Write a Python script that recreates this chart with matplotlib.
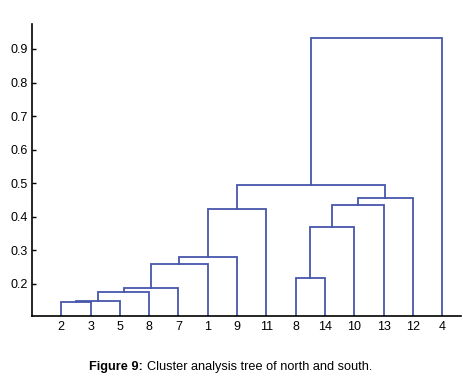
import matplotlib
matplotlib.use("Agg")
import matplotlib.pyplot as plt
from matplotlib.offsetbox import TextArea, HPacker, AnchoredOffsetbox

plt.rcParams['font.family'] = ['Liberation Sans', 'DejaVu Sans']

# Hojas del dendrograma en el orden en que aparecen
leaf_labels = ['2', '3', '5', '8', '7', '1', '9', '11', '8', '14', '10', '13', '12', '4']
# Uniones: (nodo izq, nodo der, altura); nodos >= 14 son clusters
merge_left = [0, 14, 15, 16, 17, 18, 19, 8, 21, 22, 23, 20, 25]
merge_right = [1, 2, 3, 4, 5, 6, 7, 9, 10, 11, 12, 24, 13]
merge_height = [0.145, 0.149, 0.175, 0.188, 0.26, 0.28, 0.422,
                0.217, 0.37, 0.435, 0.455, 0.495, 0.933]
y_ticks = [0.2, 0.3, 0.4, 0.5, 0.6, 0.7, 0.8, 0.9]

color = '#4656ab'
n = len(leaf_labels)
xpos = {i: i + 1 for i in range(n)}
ypos = {i: 0.0 for i in range(n)}

fig = plt.figure(figsize=(4.63, 3.84), dpi=100)
ax = fig.add_axes([0.069, 0.176, 0.927, 0.762])

for k in range(len(merge_height)):
    a, b, h = merge_left[k], merge_right[k], merge_height[k]
    xa, xb = xpos[a], xpos[b]
    ax.plot([xa, xa, xb, xb], [ypos[a], h, h, ypos[b]], color=color, lw=1.3,
            solid_joinstyle='miter', clip_on=True)
    node = n + k
    xpos[node] = (xa + xb) / 2
    ypos[node] = h

ax.set_xlim(0, 14.65)
ax.set_ylim(0.103, 0.975)
ax.set_xticks(range(1, n + 1))
ax.set_xticklabels(leaf_labels, fontsize=9)
ax.set_yticks(y_ticks)
ax.set_yticklabels([str(v) for v in y_ticks], fontsize=9)
ax.tick_params(axis='x', length=0, pad=3)
ax.tick_params(axis='y', direction='in', length=3, width=1, pad=3)
for s in ['top', 'right']:
    ax.spines[s].set_visible(False)
for s in ['left', 'bottom']:
    ax.spines[s].set_linewidth(1.2)

# Pie de figura con "Figure 9:" en negrita
t1 = TextArea("Figure 9:", textprops=dict(fontsize=9.2, fontweight='bold'))
t2 = TextArea("Cluster analysis tree of north and south.", textprops=dict(fontsize=9.2))
box = HPacker(children=[t1, t2], align='baseline', pad=0, sep=3)
anch = AnchoredOffsetbox(loc='center', child=box, frameon=False,
                         bbox_to_anchor=(0.498, 1 - 367 / 384), bbox_transform=fig.transFigure,
                         borderpad=0, pad=0)
fig.add_artist(anch)

fig.savefig('out.png', dpi=100)
